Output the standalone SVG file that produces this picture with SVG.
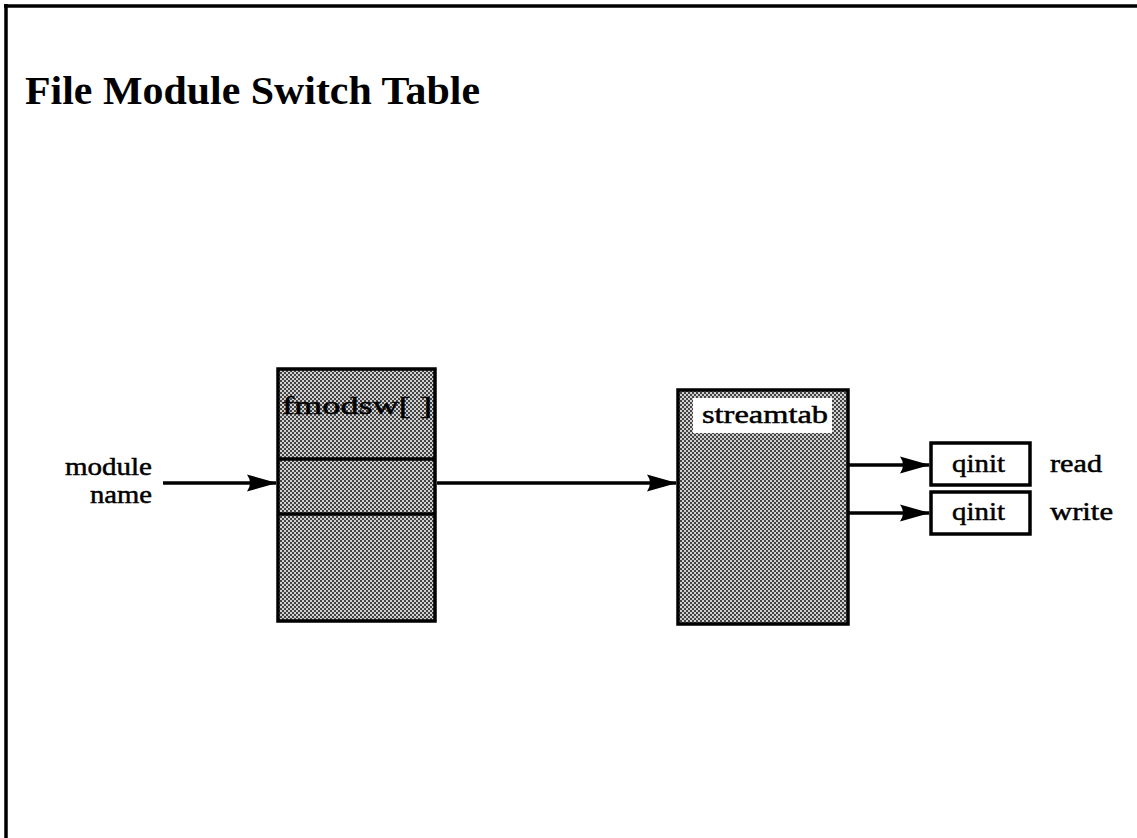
<svg xmlns="http://www.w3.org/2000/svg" width="1137" height="838" viewBox="0 0 1137 838">
<style>
.t{font-family:"Liberation Serif","Times New Roman",serif;fill:#000}
.lbl{font-size:26px;stroke:#000;stroke-width:0.5}
.box{stroke:#000;stroke-width:3.5;fill:url(#dots)}
.wbox{stroke:#000;stroke-width:3.5;fill:#fff}
.ln{stroke:#000;stroke-width:3.5;fill:none}
</style>
<defs>
<pattern id="dots" width="4" height="4" patternUnits="userSpaceOnUse">
<rect width="4" height="4" fill="#d0d0d0"/>
<rect width="2" height="2" fill="#444"/>
<rect x="2" y="2" width="2" height="2" fill="#444"/>
</pattern>
<marker id="ah" viewBox="0 0 30 18" refX="29" refY="9" markerWidth="30" markerHeight="18" markerUnits="userSpaceOnUse" orient="auto">
<path d="M0,0.5 L30,9 L0,17.5 Q6,9 0,0.5 Z" fill="#000"/>
</marker>
</defs>
<rect width="1137" height="838" fill="#fff"/>
<g id="frame">
<line x1="4" y1="6" x2="1137" y2="6" class="ln" stroke-width="3"/>
<line x1="6" y1="4" x2="6" y2="838" class="ln" stroke-width="3"/>
</g>
<text class="t" x="25" y="104" font-size="39" font-weight="bold" textLength="455" lengthAdjust="spacingAndGlyphs">File Module Switch Table</text>
<g id="modulename">
<text class="t lbl" x="65" y="475" textLength="87" lengthAdjust="spacingAndGlyphs">module</text>
<text class="t lbl" x="90" y="503" textLength="62" lengthAdjust="spacingAndGlyphs">name</text>
</g>
<g id="fmodsw">
<rect class="box" x="278" y="369" width="157" height="252"/>
<line class="ln" x1="278" y1="459" x2="435" y2="459"/>
<line class="ln" x1="278" y1="514" x2="435" y2="514"/>
<text class="t lbl" x="282" y="414" font-size="27" textLength="150" lengthAdjust="spacingAndGlyphs">fmodsw[ ]</text>
</g>
<g id="streamtab">
<rect class="box" x="678" y="390" width="170" height="234"/>
<rect x="693" y="398" width="139" height="35" fill="#fff"/>
<text class="t lbl" x="702" y="423" textLength="126" lengthAdjust="spacingAndGlyphs">streamtab</text>
</g>
<g id="qinit-read">
<rect class="wbox" x="931" y="443" width="99" height="42"/>
<text class="t lbl" x="952" y="472" textLength="53" lengthAdjust="spacingAndGlyphs">qinit</text>
<text class="t lbl" x="1050" y="472" textLength="52" lengthAdjust="spacingAndGlyphs">read</text>
</g>
<g id="qinit-write">
<rect class="wbox" x="931" y="492" width="99" height="42"/>
<text class="t lbl" x="952" y="520" textLength="53" lengthAdjust="spacingAndGlyphs">qinit</text>
<text class="t lbl" x="1050" y="520" textLength="63" lengthAdjust="spacingAndGlyphs">write</text>
</g>
<g id="connectors">
<line class="ln" x1="163" y1="483" x2="276" y2="483" marker-end="url(#ah)"/>
<line class="ln" x1="437" y1="483" x2="676" y2="483" marker-end="url(#ah)"/>
<line class="ln" x1="849" y1="465" x2="929" y2="465" marker-end="url(#ah)"/>
<line class="ln" x1="849" y1="513" x2="929" y2="513" marker-end="url(#ah)"/>
</g>
</svg>
